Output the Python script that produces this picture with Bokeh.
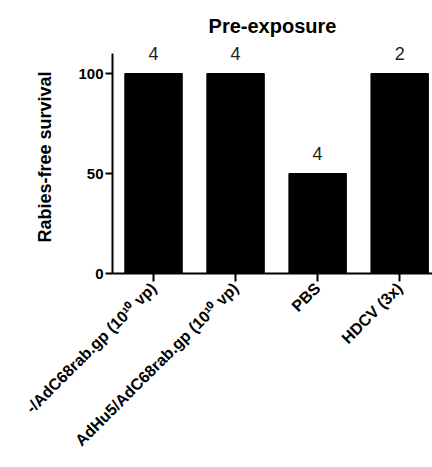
import math
from bokeh.plotting import figure
from bokeh.models import Range1d, FixedTicker, ColumnDataSource
from bokeh.core.properties import value
from bokeh.embed import file_html
from bokeh.resources import INLINE

# ---- data ----
categories = ["-/AdC68rab.gp (10\u00b9\u2070 vp)",
              "AdHu5/AdC68rab.gp (10\u00b9\u2070 vp)",
              "PBS",
              "HDCV (3x)"]
survival = [100, 100, 50, 100]
n_animals = ["4", "4", "4", "2"]
y_ticks = [0, 50, 100]

FONT = "Liberation Sans"

xs = list(range(len(categories)))
src = ColumnDataSource(dict(x=xs, top=survival,
                            ly=[v + 10 for v in survival], txt=n_animals))

p = figure(width=432, height=467, output_backend="svg", toolbar_location=None,
           x_range=Range1d(-0.5, 3.4), y_range=Range1d(0, 116.5),
           min_border_left=112, min_border_right=0, min_border_top=40,
           min_border_bottom=194, title="Pre-exposure")

p.vbar(x="x", top="top", width=0.7, bottom=0, source=src,
       fill_color="black", line_color="black")
p.text(x="x", y="ly", text="txt", source=src, text_align="center",
       text_baseline="middle", text_font=value(FONT), text_font_size="18px",
       text_color="#222222")

p.title.align = "center"
p.title.text_font = FONT
p.title.text_font_size = "20px"
p.title.text_font_style = "bold"
p.title.text_color = "black"
p.title.standoff = 8

p.xgrid.visible = False
p.ygrid.visible = False
p.outline_line_color = None

ya = p.yaxis[0]
ya.ticker = FixedTicker(ticks=y_ticks)
ya.bounds = (0, 110)
ya.axis_line_width = 2
ya.major_tick_line_width = 2
ya.major_tick_out = 7
ya.major_tick_in = 0
ya.minor_tick_line_color = None
ya.major_label_standoff = 2
ya.major_label_text_font = FONT
ya.major_label_text_font_size = "15px"
ya.major_label_text_font_style = "bold"
ya.major_label_text_color = "black"
ya.axis_label = "Rabies-free survival"
ya.axis_label_text_font = FONT
ya.axis_label_text_font_size = "18px"
ya.axis_label_text_font_style = "bold"
ya.axis_label_text_color = "black"
ya.axis_label_standoff = 20

xa = p.xaxis[0]
xa.ticker = FixedTicker(ticks=xs)
xa.major_label_overrides = {i: c for i, c in zip(xs, categories)}
xa.major_label_orientation = math.pi / 4
xa.axis_line_width = 2
xa.major_tick_line_width = 2
xa.major_tick_out = 8
xa.major_tick_in = 0
xa.minor_tick_line_color = None
xa.major_label_standoff = 4
xa.major_label_text_font = FONT
xa.major_label_text_font_size = "16px"
xa.major_label_text_font_style = "bold"
xa.major_label_text_color = "black"

open("out.html", "w").write(file_html(p, INLINE))
